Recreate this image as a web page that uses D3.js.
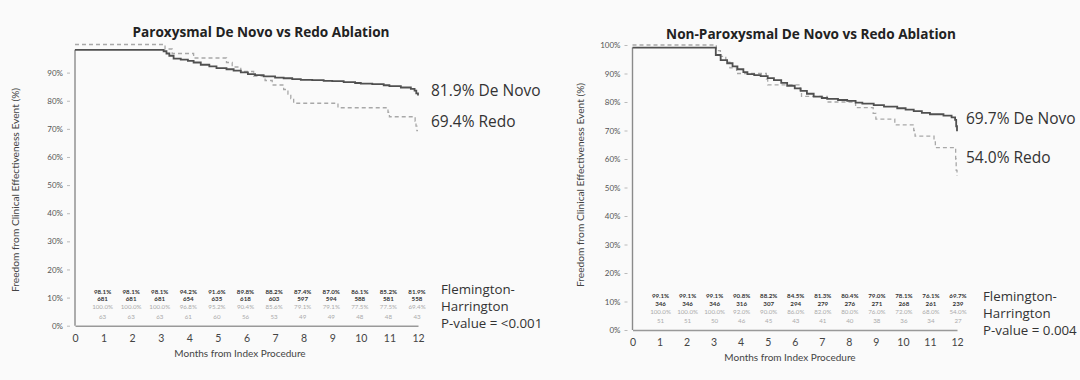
<!DOCTYPE html>
<html>
<head>
<meta charset="utf-8">
<script src="https://cdn.jsdelivr.net/npm/d3@7"></script>
<style>
  html, body { margin: 0; padding: 0; background: #fafafa; }
  svg { display: block; }
</style>
</head>
<body>
<svg id="chart" width="1080" height="380"></svg>
<script>
// ---------------- DATA ----------------
const monthTicks = [0,1,2,3,4,5,6,7,8,9,10,11,12];
const riskMonths = [1,2,3,4,5,6,7,8,9,10,11,12];
const yTicksLeft = [0,10,20,30,40,50,60,70,80,90];
const yTicksRight = [0,10,20,30,40,50,60,70,80,90,100];

// Paroxysmal panel
const parTitle = "Paroxysmal De Novo vs Redo Ablation";
const parDeNovoCurve = [[0,98.1],[3.0,98.1],[3.1,97.6],[3.2,96.8],[3.3,96.0],[3.45,95.0],[3.7,94.6],[3.95,94.2],[4.15,93.6],[4.4,92.8],[4.7,92.2],[4.95,91.6],[5.3,91.2],[5.55,90.7],[5.8,90.1],[6.05,89.5],[6.3,89.1],[6.6,88.7],[7.0,88.2],[7.3,88.0],[7.6,87.7],[7.9,87.4],[8.3,87.3],[8.7,87.1],[9.0,87.0],[9.4,86.6],[9.8,86.3],[10.0,86.1],[10.4,85.9],[10.8,85.5],[11.0,85.2],[11.4,84.7],[11.75,84.2],[11.88,83.6],[11.94,82.6],[12,81.9]];
const parRedoCurve = [[0,100],[3.05,100],[3.15,98.4],[3.4,96.8],[4.15,95.2],[5.3,93.6],[5.5,92.0],[5.8,90.4],[6.25,88.8],[6.65,87.2],[6.9,85.6],[7.3,84.0],[7.45,82.4],[7.55,80.8],[7.65,79.1],[9.2,77.5],[10.95,75.9],[11.0,74.3],[11.9,72.7],[11.93,71.0],[11.96,69.4],[12,69.4]];
const parDeNovoPct = ["98.1%","98.1%","98.1%","94.2%","91.6%","89.8%","88.2%","87.4%","87.0%","86.1%","85.2%","81.9%"];
const parDeNovoN = [681,681,681,654,635,618,603,597,594,588,581,558];
const parRedoPct = ["100.0%","100.0%","100.0%","96.8%","95.2%","90.4%","85.6%","79.1%","79.1%","77.5%","77.5%","69.4%"];
const parRedoN = [63,63,63,61,60,56,53,49,49,48,48,43];
const parEndLabels = ["81.9% De Novo","69.4% Redo"];
const parPLines = ["Flemington-","Harrington","P-value = <0.001"];

// Non-paroxysmal panel
const nonTitle = "Non-Paroxysmal De Novo vs Redo Ablation";
const nonDeNovoCurve = [[0,99.1],[3.0,99.1],[3.08,96.5],[3.26,94.7],[3.5,93.6],[3.7,92.5],[3.88,91.5],[4.1,90.5],[4.25,89.8],[4.5,89.4],[4.74,89.1],[5.0,88.4],[5.23,87.7],[5.5,86.7],[5.72,85.7],[6.0,84.8],[6.22,83.9],[6.45,82.9],[6.7,81.9],[7.0,81.4],[7.2,81.1],[7.6,80.7],[7.94,80.4],[8.25,79.8],[8.5,79.4],[8.92,78.9],[9.3,78.4],[9.79,77.8],[10.1,77.3],[10.4,76.8],[10.7,76.2],[11.0,75.7],[11.5,75.2],[11.8,74.6],[11.93,73.7],[11.97,71.5],[12,69.7]];
const nonRedoCurve = [[0,100],[3.05,100],[3.1,98],[3.25,96],[3.45,94],[3.6,92],[3.85,90],[4.95,88],[5.0,86],[6.2,84],[6.25,82],[7.2,80],[8.25,78],[8.9,76],[9.0,74],[9.7,72],[10.4,70],[10.45,68],[11.15,66],[11.2,64],[11.95,60],[11.97,56],[12,54]];
const nonDeNovoPct = ["99.1%","99.1%","99.1%","90.8%","88.2%","84.5%","81.3%","80.4%","79.0%","78.1%","76.1%","69.7%"];
const nonDeNovoN = [346,346,346,316,307,294,279,276,271,268,261,239];
const nonRedoPct = ["100.0%","100.0%","100.0%","92.0%","90.0%","86.0%","82.0%","80.0%","76.0%","72.0%","68.0%","54.0%"];
const nonRedoN = [51,51,50,46,45,43,41,40,38,36,34,27];
const nonEndLabels = ["69.7% De Novo","54.0% Redo"];
const nonPLines = ["Flemington-","Harrington","P-value = 0.004"];

const yAxisTitle = "Freedom from Clinical Effectiveness Event (%)";
const xAxisTitle = "Months from Index Procedure";

// ---------------- DRAW ----------------
const svg = d3.select("#chart");
svg.append("rect").attr("width",1080).attr("height",380).attr("fill","#fafafa");

function drawPanel(p) {
  const g = svg.append("g");
  const x = d3.scaleLinear().domain([0,12]).range([p.x0, p.x1]);
  const y = d3.scaleLinear().domain([0,100]).range([p.y0, p.y1]);

  // title
  g.append("text").attr("x", p.titleX).attr("y", p.titleY)
    .attr("text-anchor","middle")
    .attr("font-family","'Open Sans', sans-serif").attr("font-weight",700)
    .attr("font-size",13.6).attr("fill","#222").text(p.title);

  // y axis
  const yAxis = d3.axisLeft(y).tickValues(p.yTicks).tickSize(0).tickPadding(12)
    .tickFormat(d => d + "%");
  const ya = g.append("g").attr("transform",`translate(${p.x0},0)`).call(yAxis);
  ya.select(".domain").remove();
  ya.selectAll("text").attr("font-family","Lato, sans-serif").attr("font-size",8)
    .attr("fill","#555");
  ya.selectAll(".tick").append("line").attr("x1",-8).attr("x2",-5)
    .attr("stroke","#aaa").attr("stroke-width",0.8);
  // axis line from 0 to start of curve
  g.append("line").attr("x1",p.x0).attr("x2",p.x0)
    .attr("y1",y(0)).attr("y2",y(p.deNovo[0][1]))
    .attr("stroke","#8a8a8a").attr("stroke-width",1.4);

  // x axis
  const xAxis = d3.axisBottom(x).tickValues(monthTicks).tickSize(0).tickPadding(9)
    .tickFormat(d3.format("d"));
  const xa = g.append("g").attr("transform",`translate(0,${p.y0})`).call(xAxis);
  xa.select(".domain").attr("stroke","#999").attr("stroke-width",1.5);
  xa.selectAll("text").attr("font-family","Lato, sans-serif").attr("font-size",10.5)
    .attr("fill","#444");

  // axis titles
  g.append("text").attr("x", p.xTitleX).attr("y", p.xTitleY).attr("text-anchor","middle")
    .attr("font-family","Lato, sans-serif").attr("font-size",10).attr("fill","#444")
    .text(xAxisTitle);
  g.append("text").attr("transform",`translate(${p.yTitleX},${p.yTitleY}) rotate(-90)`)
    .attr("text-anchor","middle").attr("font-family","Lato, sans-serif")
    .attr("font-size",10.2).attr("fill","#444").text(yAxisTitle);

  // curves
  const line = d3.line().x(d => x(d[0])).y(d => y(d[1])).curve(d3.curveStepAfter);
  g.append("path").datum(p.redo).attr("d", line).attr("fill","none")
    .attr("stroke","#a8a8a8").attr("stroke-width",1.3).attr("stroke-dasharray","4,3");
  g.append("path").datum(p.deNovo).attr("d", line).attr("fill","none")
    .attr("stroke","#505050").attr("stroke-width",1.8);

  // risk table
  const rows = [
    {vals: p.dnPct, y: p.riskY[0], fill: "#333", w: 700},
    {vals: p.dnN, y: p.riskY[1], fill: "#333", w: 700},
    {vals: p.rdPct, y: p.riskY[2], fill: "#aaa", w: 400},
    {vals: p.rdN, y: p.riskY[3], fill: "#aaa", w: 400}
  ];
  rows.forEach(r => {
    g.append("g").selectAll("text").data(r.vals).join("text")
      .attr("x", (d,i) => x(riskMonths[i]) + p.riskDx)
      .attr("y", r.y).attr("dy","0.35em").attr("text-anchor","middle")
      .attr("font-family","Lato, sans-serif").attr("font-size",6.2)
      .attr("font-weight", r.w).attr("fill", r.fill).text(d => d);
  });

  // end labels
  p.endLabels.forEach((t,i) => {
    g.append("text").attr("x", p.endX).attr("y", p.endY[i]).attr("dy","0.35em")
      .attr("font-family","'Open Sans', sans-serif").attr("font-size",15.5)
      .attr("fill","#333").text(t);
  });
  // p-value
  p.pLines.forEach((t,i) => {
    g.append("text").attr("x", p.pX).attr("y", p.pY + i*17.2).attr("dy","0.35em")
      .attr("font-family","'Open Sans', sans-serif").attr("font-size",13.3)
      .attr("fill","#333").text(t);
  });
}

drawPanel({
  title: parTitle, titleX: 261, titleY: 37,
  x0: 75, x1: 418, y0: 325.7, y1: 44.5,
  yTicks: yTicksLeft,
  xTitleX: 240, xTitleY: 357, yTitleX: 19, yTitleY: 190,
  deNovo: parDeNovoCurve, redo: parRedoCurve,
  dnPct: parDeNovoPct, dnN: parDeNovoN, rdPct: parRedoPct, rdN: parRedoN,
  riskY: [291.7, 299.3, 307.3, 316.7], riskDx: -1,
  endLabels: parEndLabels, endX: 431, endY: [91, 122],
  pLines: parPLines, pX: 441, pY: 289
});

drawPanel({
  title: nonTitle, titleX: 811, titleY: 39,
  x0: 632.5, x1: 957, y0: 330, y1: 45,
  yTicks: yTicksRight,
  xTitleX: 790, xTitleY: 361, yTitleX: 584, yTitleY: 185,
  deNovo: nonDeNovoCurve, redo: nonRedoCurve,
  dnPct: nonDeNovoPct, dnN: nonDeNovoN, rdPct: nonRedoPct, rdN: nonRedoN,
  riskY: [296, 304, 312.3, 320.7], riskDx: 1,
  endLabels: nonEndLabels, endX: 966, endY: [119, 158],
  pLines: nonPLines, pX: 983, pY: 296
});
</script>
</body>
</html>
